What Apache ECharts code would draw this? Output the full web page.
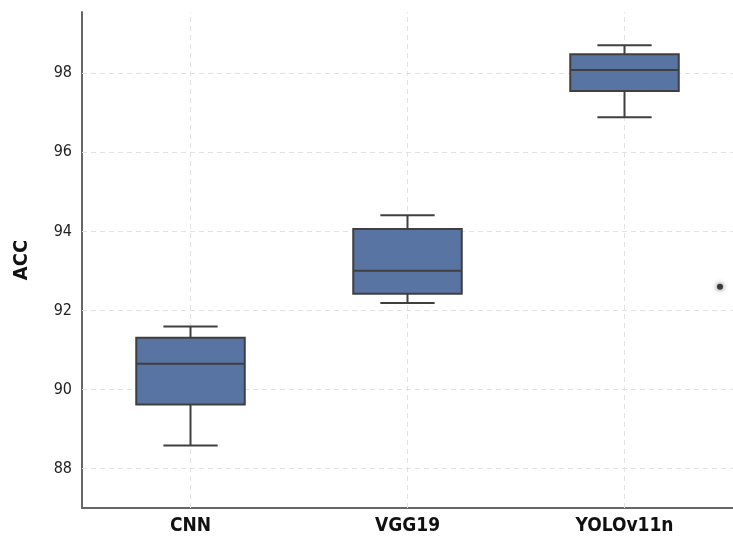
<!DOCTYPE html>
<html>
<head>
<meta charset="utf-8">
<script src="https://cdn.jsdelivr.net/npm/echarts@6/dist/echarts.min.js"></script>
<style>html,body{margin:0;padding:0;background:#fff}#c{width:733px;height:536px}</style>
</head>
<body>
<div id="c"></div>
<script>
var categories = ['CNN', 'VGG19', 'YOLOv11n'];
// [min, Q1, median, Q3, max]
var cnnBox = [88.58, 89.62, 90.65, 91.31, 91.59];
var vggBox = [92.19, 92.42, 93.0, 94.06, 94.41];
var yoloBox = [96.89, 97.55, 98.08, 98.48, 98.71];
var outlierPoint = [2.44, 92.6];
var yTicks = [88, 90, 92, 94, 96, 98];

var boxes = [cnnBox, vggBox, yoloBox];
var boxData = boxes.map(function (b, i) { return [i].concat(b); });

var FONT = '"DejaVu Sans Condensed", "Liberation Sans Narrow", "Liberation Sans", sans-serif';
var EDGE = '#3f3f3f';

var chart = echarts.init(document.getElementById('c'), null, {renderer: 'canvas'});
chart.setOption({
  backgroundColor: '#ffffff',
  animation: false,
  grid: {left: 82, top: 12, width: 656, height: 496, containLabel: false},
  xAxis: [{
    type: 'category',
    data: categories,
    boundaryGap: true,
    axisLine: {show: true, onZero: false, lineStyle: {color: '#666', width: 2}},
    axisTick: {show: false},
    splitLine: {show: false},
    axisLabel: {color: '#111', fontFamily: FONT, fontWeight: 'bold', fontSize: 19, margin: 9}
  }, {
    type: 'value',
    min: -0.5, max: 2.5,
    show: false
  }],
  yAxis: {
    type: 'value',
    name: 'ACC',
    nameLocation: 'middle',
    nameGap: 50,
    nameTextStyle: {color: '#111', fontFamily: FONT, fontWeight: 'bold', fontSize: 20},
    min: 87, max: 99.55, interval: 1,
    axisLine: {show: true, onZero: false, lineStyle: {color: '#666', width: 2}},
    axisTick: {show: false},
    splitLine: {show: false},
    axisLabel: {
      color: '#222', fontFamily: FONT, fontSize: 16, margin: 10,
      formatter: function (v) { return yTicks.indexOf(v) >= 0 ? String(v) : ''; }
    }
  },
  series: [{
    type: 'scatter',
    xAxisIndex: 0,
    data: [],
    z: 1,
    silent: true,
    markLine: {
      silent: true,
      symbol: 'none',
      z: 1,
      label: {show: false},
      lineStyle: {color: '#e2e2e2', type: [5, 4], width: 1},
      data: yTicks.map(function (t) { return {yAxis: t}; })
        .concat(categories.map(function (c) { return {xAxis: c}; }))
    }
  }, {
    type: 'custom',
    xAxisIndex: 0,
    data: boxData,
    z: 5,
    renderItem: function (params, api) {
      var x = api.value(0);
      var lo = api.coord([x, api.value(1)]);
      var q1 = api.coord([x, api.value(2)]);
      var md = api.coord([x, api.value(3)]);
      var q3 = api.coord([x, api.value(4)]);
      var hi = api.coord([x, api.value(5)]);
      var bw = api.size([1, 0])[0] * 0.5;
      var cw = bw * 0.5;
      var cx = lo[0];
      var ls = {stroke: EDGE, lineWidth: 2, fill: null};
      return {
        type: 'group',
        children: [
          {type: 'line', shape: {x1: cx, y1: hi[1], x2: cx, y2: q3[1]}, style: ls},
          {type: 'line', shape: {x1: cx, y1: q1[1], x2: cx, y2: lo[1]}, style: ls},
          {type: 'line', shape: {x1: cx - cw / 2, y1: hi[1], x2: cx + cw / 2, y2: hi[1]}, style: ls},
          {type: 'line', shape: {x1: cx - cw / 2, y1: lo[1], x2: cx + cw / 2, y2: lo[1]}, style: ls},
          {type: 'rect', shape: {x: cx - bw / 2, y: q3[1], width: bw, height: q1[1] - q3[1]},
            style: {fill: '#5874a3', stroke: EDGE, lineWidth: 2}},
          {type: 'line', shape: {x1: cx - bw / 2, y1: md[1], x2: cx + bw / 2, y2: md[1]}, style: ls}
        ]
      };
    }
  }, {
    type: 'scatter',
    xAxisIndex: 1,
    data: [outlierPoint],
    symbolSize: 6,
    z: 6,
    itemStyle: {color: '#1a1a1a', shadowBlur: 5, shadowColor: 'rgba(0,0,0,0.8)'}
  }]
});
</script>
</body>
</html>
